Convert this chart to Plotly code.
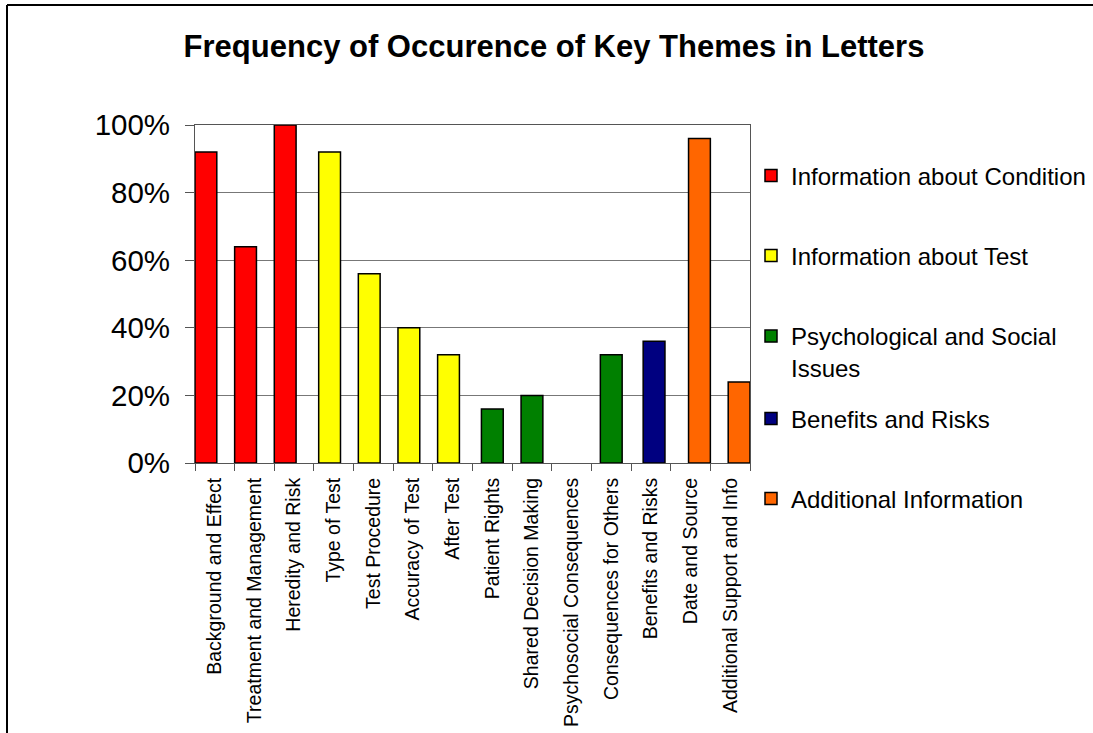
import plotly.graph_objects as go

categories = [
    "Background and Effect", "Treatment and Management", "Heredity and Risk",
    "Type of Test", "Test Procedure", "Accuracy of Test", "After Test",
    "Patient Rights", "Shared Decision Making", "Psychosocial Consequences",
    "Consequences for Others", "Benefits and Risks", "Date and Source",
    "Additional Support and Info",
]

cond_cats = ["Background and Effect", "Treatment and Management", "Heredity and Risk"]
cond_vals = [0.92, 0.64, 1.00]
test_cats = ["Type of Test", "Test Procedure", "Accuracy of Test", "After Test"]
test_vals = [0.92, 0.56, 0.40, 0.32]
psych_cats = ["Patient Rights", "Shared Decision Making", "Psychosocial Consequences",
              "Consequences for Others"]
psych_vals = [0.16, 0.20, 0.0, 0.32]
ben_cats = ["Benefits and Risks"]
ben_vals = [0.36]
add_cats = ["Date and Source", "Additional Support and Info"]
add_vals = [0.96, 0.24]

series_names = ["Information about Condition", "Information about Test",
                "Psychological and Social<br>Issues", "Benefits and Risks",
                "Additional Information"]
series_colors = ["#FF0000", "#FFFF00", "#008000", "#000080", "#FF6600"]
series_offsets = [-0.5, -0.38, -0.275, -0.195, -0.05]
legend_ids = ["legend2", "legend3", "legend4", "legend5", "legend6"]
legend_px_y = [176, 256, 352, 419, 499]

FONT = "Liberation Sans, Arial, sans-serif"
W, H = 1093, 733
L, R, T, B = 195, 343, 125, 270
PW, PH = W - L - R, H - T - B

def px_x(px):
    return (px - L) / PW

def px_y(py):
    return (H - B - py) / PH

fig = go.Figure()
data = [(cond_cats, cond_vals), (test_cats, test_vals), (psych_cats, psych_vals),
        (ben_cats, ben_vals), (add_cats, add_vals)]
for i, (cats, vals) in enumerate(data):
    line_w = [1.5 if v > 0 else 0 for v in vals]
    fig.add_trace(go.Bar(
        x=cats, y=vals, name=series_names[i],
        marker=dict(color=series_colors[i], line=dict(color="black", width=line_w)),
        width=0.55, offset=series_offsets[i],
        legend=legend_ids[i],
    ))

layout_legends = {}
for i, lid in enumerate(legend_ids):
    layout_legends[lid] = dict(
        x=px_x(751), xanchor="left",
        y=px_y(legend_px_y[i]), yanchor="middle",
        font=dict(family=FONT, size=24, color="black"),
        bgcolor="rgba(0,0,0,0)", valign="top",
    )

fig.update_layout(
    width=W, height=H,
    margin=dict(l=L, r=R, t=T, b=B, autoexpand=False),
    paper_bgcolor="white", plot_bgcolor="white",
    barmode="overlay",
    showlegend=True,
    title=dict(
        text="<b>Frequency of Occurence of Key Themes in Letters</b>",
        x=554 / W, xref="container", xanchor="center",
        y=1 - 46 / H, yref="container", yanchor="middle",
        font=dict(family=FONT, size=31, color="black"),
    ),
    font=dict(family=FONT, color="black"),
    **layout_legends,
)

fig.update_xaxes(
    type="category", categoryorder="array", categoryarray=categories,
    range=[-0.5, len(categories) - 0.5],
    tickson="boundaries", ticks="outside", ticklen=7, tickcolor="#555555",
    tickangle=-90, tickfont=dict(family=FONT, size=19.5, color="black"),
    ticklabelstandoff=6, automargin=False,
    showline=True, linecolor="#555555", linewidth=1, mirror=True,
    showgrid=False,
)
fig.update_yaxes(
    range=[0, 1], dtick=0.2, tickformat=".0%",
    ticks="outside", ticklen=9, tickcolor="#555555",
    tickfont=dict(family=FONT, size=29.5, color="black"),
    ticklabelstandoff=9, automargin=False,
    showline=True, linecolor="#555555", linewidth=1, mirror=True,
    showgrid=True, gridcolor="#777777", gridwidth=1,
    zeroline=False,
)

# outer chart border (top and left edges visible)
fig.add_shape(type="line", xref="paper", yref="paper",
              x0=px_x(7), x1=px_x(1100), y0=px_y(5), y1=px_y(5),
              line=dict(color="black", width=2))
fig.add_shape(type="line", xref="paper", yref="paper",
              x0=px_x(7), x1=px_x(7), y0=px_y(5), y1=px_y(740),
              line=dict(color="black", width=2))

fig.write_html("out.html")
